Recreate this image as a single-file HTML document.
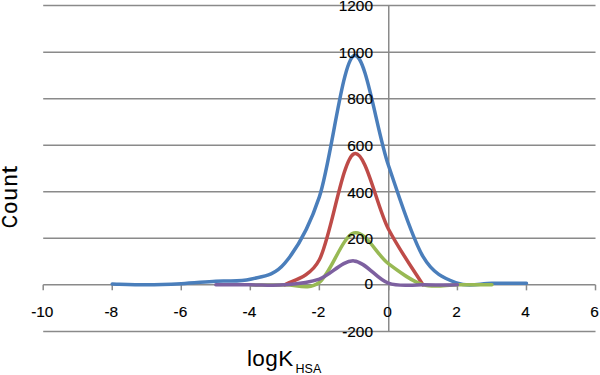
<!DOCTYPE html>
<html><head><meta charset="utf-8"><style>
html,body{margin:0;padding:0;background:#fff;}
body{width:600px;height:375px;overflow:hidden;}
svg{display:block;}
text{font-family:"Liberation Sans",sans-serif;fill:#000;}
.g{stroke:#8a8a8a;stroke-width:1.5;fill:none;}
.c path{fill:none;stroke-width:3.5;stroke-linecap:round;stroke-linejoin:round;}
.lab text{font-size:15.4px;stroke:#000;stroke-width:0.15px;}
.cnt{stroke:#000;stroke-width:0.25px;}
</style></head><body>
<svg width="600" height="375" viewBox="0 0 600 375">
<rect width="600" height="375" fill="#fff"/>
<g>
<line x1="43.20" x2="595.52" y1="331.39" y2="331.39" class="g"/>
<line x1="43.20" x2="595.52" y1="238.31" y2="238.31" class="g"/>
<line x1="43.20" x2="595.52" y1="191.77" y2="191.77" class="g"/>
<line x1="43.20" x2="595.52" y1="145.23" y2="145.23" class="g"/>
<line x1="43.20" x2="595.52" y1="98.69" y2="98.69" class="g"/>
<line x1="43.20" x2="595.52" y1="52.15" y2="52.15" class="g"/>
<line x1="43.20" x2="595.52" y1="5.61" y2="5.61" class="g"/>
<line x1="388.75" x2="388.75" y1="5.61" y2="331.39" class="g"/>
<line x1="43.20" x2="595.52" y1="284.85" y2="284.85" class="g"/>
<line x1="43.20" x2="43.20" y1="284.85" y2="290.35" class="g"/>
<line x1="112.24" x2="112.24" y1="284.85" y2="290.35" class="g"/>
<line x1="181.28" x2="181.28" y1="284.85" y2="290.35" class="g"/>
<line x1="250.32" x2="250.32" y1="284.85" y2="290.35" class="g"/>
<line x1="319.36" x2="319.36" y1="284.85" y2="290.35" class="g"/>
<line x1="388.75" x2="388.75" y1="284.85" y2="290.35" class="g"/>
<line x1="457.44" x2="457.44" y1="284.85" y2="290.35" class="g"/>
<line x1="526.48" x2="526.48" y1="284.85" y2="290.35" class="g"/>
<line x1="595.52" x2="595.52" y1="284.85" y2="290.35" class="g"/>
</g>
<g class="c">
<path d="M112.24,283.92 C117.99,284.07 135.25,284.89 146.76,284.85 C158.27,284.81 169.77,284.31 181.28,283.69 C192.79,283.07 204.29,281.86 215.80,281.13 C227.31,280.39 238.81,282.25 250.32,279.27 C261.83,276.28 273.33,276.94 284.84,263.21 C296.35,249.48 307.85,231.48 319.36,196.89 C330.87,162.29 342.37,60.92 353.88,55.64 C365.39,50.37 376.89,131.77 388.40,165.24 C399.91,198.71 411.41,236.80 422.92,256.46 C433.95,275.31 445.93,278.76 457.44,283.22 C468.95,287.68 480.45,283.22 491.96,283.22 C503.47,283.22 520.73,283.22 526.48,283.22" stroke="#4a7ebb"/>
<path d="M284.84,284.85 C290.59,280.66 309.41,278.61 319.36,259.72 C330.87,237.88 342.37,158.96 353.88,153.84 C365.39,148.72 376.89,207.17 388.40,229.00 C399.91,250.84 417.17,275.54 422.92,284.85" stroke="#be4b48"/>
<path d="M250.32,284.85 C256.07,284.85 273.33,285.28 284.84,284.85 C296.35,284.42 307.85,290.94 319.36,282.29 C330.87,273.64 342.37,236.06 353.88,232.96 C365.39,229.86 376.89,255.06 388.40,263.67 C399.91,272.28 411.41,281.09 422.92,284.62 C434.43,288.15 445.93,284.81 457.44,284.85 C468.95,284.89 486.21,284.85 491.96,284.85" stroke="#98b954"/>
<path d="M215.80,284.85 C221.55,284.85 238.81,284.85 250.32,284.85 C261.83,284.85 273.33,285.82 284.84,284.85 C296.35,283.88 307.85,283.03 319.36,279.03 C330.87,275.04 342.37,260.18 353.88,260.88 C365.39,261.58 376.89,279.23 388.40,283.22 C399.91,287.22 411.41,284.58 422.92,284.85 C434.43,285.12 451.69,284.85 457.44,284.85" stroke="#7d60a0"/>
</g>
<g class="lab">
<text x="373.0" y="337.19" text-anchor="end">-200</text>
<text x="373.0" y="289.15" text-anchor="end">0</text>
<text x="373.0" y="244.11" text-anchor="end">200</text>
<text x="373.0" y="197.57" text-anchor="end">400</text>
<text x="373.0" y="151.03" text-anchor="end">600</text>
<text x="373.0" y="104.49" text-anchor="end">800</text>
<text x="373.0" y="57.95" text-anchor="end">1000</text>
<text x="373.0" y="11.41" text-anchor="end">1200</text>
<text x="42.30" y="317.4" text-anchor="middle">-10</text>
<text x="111.34" y="317.4" text-anchor="middle">-8</text>
<text x="180.38" y="317.4" text-anchor="middle">-6</text>
<text x="249.42" y="317.4" text-anchor="middle">-4</text>
<text x="318.46" y="317.4" text-anchor="middle">-2</text>
<text x="387.50" y="317.4" text-anchor="middle">0</text>
<text x="456.54" y="317.4" text-anchor="middle">2</text>
<text x="525.58" y="317.4" text-anchor="middle">4</text>
<text x="594.62" y="317.4" text-anchor="middle">6</text>
</g>
<text transform="translate(16.60 227.91) rotate(-90) scale(0.745 0.908)" font-size="24" class="cnt">C</text>
<text transform="translate(16.60 213.79) rotate(-90) scale(0.885 0.908)" font-size="24" class="cnt">o</text>
<text transform="translate(16.60 200.57) rotate(-90) scale(0.943 0.908)" font-size="24" class="cnt">u</text>
<text transform="translate(16.60 186.53) rotate(-90) scale(0.904 0.908)" font-size="24" class="cnt">n</text>
<text transform="translate(16.60 173.40) rotate(-90) scale(1.111 0.908)" font-size="24" class="cnt">t</text>
<text x="246.9" y="366" font-size="22.5" letter-spacing="0.45">logK<tspan font-size="12.5" dx="1.8" dy="7.0" letter-spacing="0">HSA</tspan></text>
</svg>
</body></html>
